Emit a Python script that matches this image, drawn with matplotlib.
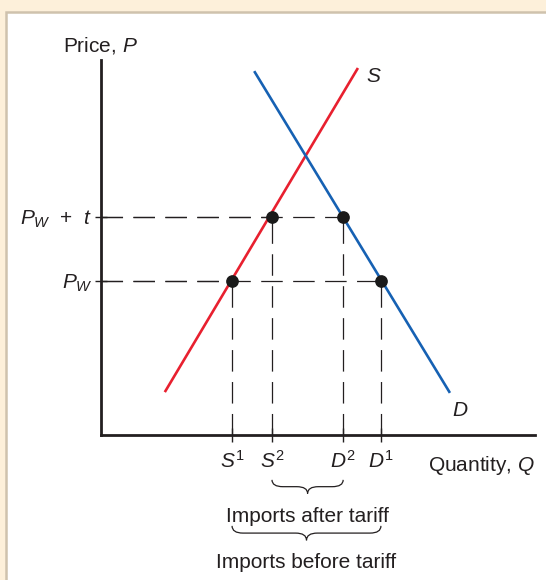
import matplotlib
matplotlib.use("Agg")
import matplotlib.pyplot as plt
from matplotlib.patches import Rectangle, PathPatch
from matplotlib.path import Path

plt.rcParams['font.family'] = ['Liberation Sans', 'DejaVu Sans']
plt.rcParams['mathtext.fontset'] = 'custom'
plt.rcParams['mathtext.rm'] = 'Liberation Sans'
plt.rcParams['mathtext.it'] = 'Liberation Sans:italic'
plt.rcParams['mathtext.bf'] = 'Liberation Sans:bold'
plt.rcParams['lines.scale_dashes'] = False

# ---- data (quantity and price in arbitrary 0-10 units) ----
supply_q = [1.47, 5.92]
supply_p = [1.10, 9.41]
demand_q = [3.53, 8.04]
demand_p = [9.33, 1.08]
price_levels = [3.95, 5.59]               # P_W, P_W + t
price_labels = [r'$\mathit{P}_{\mathit{W}}$', r'$\mathit{P}_{\mathit{W}}$  +  $\mathit{t}$']
qty_points = [3.02, 3.94, 5.58, 6.45]      # S1, S2, D2, D1
qty_labels = [r'$\mathit{S}^{1}$', r'$\mathit{S}^{2}$', r'$\mathit{D}^{2}$', r'$\mathit{D}^{1}$']
point_q = [3.02, 6.45, 3.94, 5.58]
point_p = [3.95, 3.95, 5.59, 5.59]
brace_after = (3.94, 5.58)
brace_before = (3.02, 6.45)

FS = 15
W, H = 546, 580
fig = plt.figure(figsize=(W / 100, H / 100), dpi=100)
fig.patch.set_facecolor('#fdf0da')
# white panel with tan edge
bg = fig.add_axes([0, 0, 1, 1])
bg.set_xlim(0, W)
bg.set_ylim(H, 0)
bg.axis('off')
bg.add_patch(Rectangle((6, 12), W + 20, H + 20, facecolor='white',
                       edgecolor='#cfc2ad', linewidth=1.8))

x0, x1 = 101, 535
y0, y1 = 435, 60
ax = fig.add_axes([x0 / W, 1 - y0 / H, (x1 - x0) / W, (y0 - y1) / H])
ax.set_xlim(0, 10)
ax.set_ylim(0, (y0 - y1) / 39.0)
ax.patch.set_alpha(0)
for s in ['top', 'right']:
    ax.spines[s].set_visible(False)
for s in ['left', 'bottom']:
    ax.spines[s].set_linewidth(2.0)
    ax.spines[s].set_color('#231f20')
    ax.spines[s].set_capstyle('projecting')

dash = (0, (15.5, 7.5))
dcol = '#231f20'
for p, q in zip(point_p, point_q):
    ax.plot([0, q], [p, p], color=dcol, lw=0.9, linestyle=dash, zorder=2)
    ax.plot([q, q], [0, p], color=dcol, lw=0.9, linestyle=dash, zorder=2)

ax.plot(supply_q, supply_p, color='#e8202f', lw=1.9, zorder=3, solid_capstyle='butt',
        clip_on=False)
ax.plot(demand_q, demand_p, color='#1661b3', lw=1.9, zorder=3, solid_capstyle='butt',
        clip_on=False)
ax.scatter(point_q, point_p, s=66, color='#1a1a1a', zorder=4)

ax.text(supply_q[1] + 0.18, 9.2, r'$\mathit{S}$', fontsize=FS,
        ha='left', va='center', color='#231f20', clip_on=False)
ax.text(demand_q[1] + 0.05, 0.62, r'$\mathit{D}$', fontsize=FS,
        ha='left', va='center', color='#231f20')

ax.set_yticks(price_levels)
ax.set_yticklabels([price_labels[0], price_labels[1]], fontsize=FS, color='#231f20')
ax.tick_params(axis='y', direction='inout', length=8, width=1.0, pad=2, colors='#231f20')
ax.set_xticks(qty_points)
ax.set_xticklabels(qty_labels, fontsize=FS, color='#231f20')
ax.tick_params(axis='x', direction='inout', length=10, width=1.0, pad=6, colors='#231f20')

ax.text(-0.88, 10.0, r'Price, $\mathit{P}$', fontsize=FS, ha='left', va='center',
        color='#231f20', clip_on=False)
ax.text(7.53, -0.77, r'Quantity, $\mathit{Q}$', fontsize=FS, ha='left', va='center',
        color='#231f20', clip_on=False)


def brace(axh, qa, qb, ptop, pbot):
    qc = (qa + qb) / 2
    pm = (ptop + pbot) / 2
    r = 0.25
    verts = [(qa, ptop), (qa, pm), (qa + r, pm),
             (qc - r, pm), (qc, pm), (qc, pbot),
             (qc, pm), (qc + r, pm),
             (qb - r, pm), (qb, pm), (qb, ptop)]
    codes = [Path.MOVETO, Path.CURVE3, Path.CURVE3,
             Path.LINETO, Path.CURVE3, Path.CURVE3,
             Path.CURVE3, Path.CURVE3,
             Path.LINETO, Path.CURVE3, Path.CURVE3]
    axh.add_patch(PathPatch(Path(verts, codes), facecolor='none', edgecolor='#231f20',
                            lw=0.9, clip_on=False))


brace(ax, brace_after[0], brace_after[1], -1.15, -1.50)
brace(ax, brace_before[0], brace_before[1], -2.33, -2.70)
ax.text(sum(brace_after) / 2, -2.10, 'Imports after tariff', fontsize=FS,
        ha='center', va='center', color='#231f20', clip_on=False)
ax.text(sum(brace_before) / 2, -3.26, 'Imports before tariff', fontsize=FS,
        ha='center', va='center', color='#231f20', clip_on=False)

fig.savefig('out.png', dpi=100, facecolor=fig.get_facecolor())
